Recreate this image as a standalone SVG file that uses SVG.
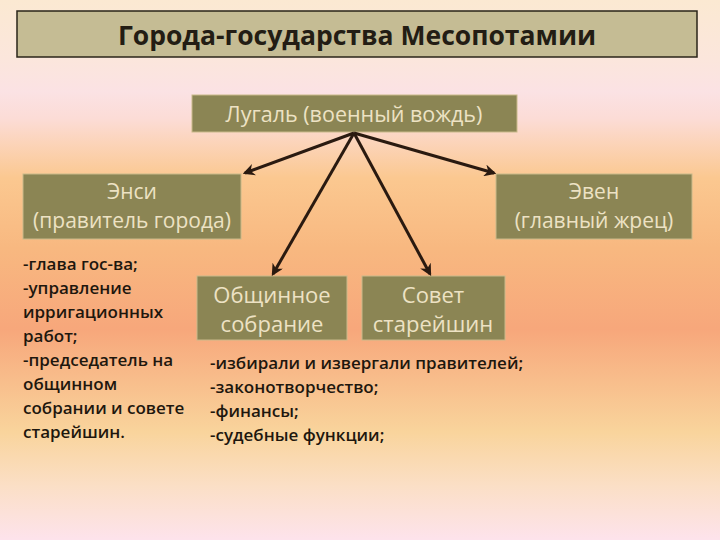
<svg xmlns="http://www.w3.org/2000/svg" width="720" height="540" viewBox="0 0 720 540">
<defs>
<linearGradient id="bg" x1="0" y1="0" x2="0" y2="1">
<stop offset="0" stop-color="#fbe9d2"/>
<stop offset="0.11" stop-color="#fbe6dc"/>
<stop offset="0.17" stop-color="#fbe2e4"/>
<stop offset="0.22" stop-color="#fcdcd6"/>
<stop offset="0.33" stop-color="#fbc890"/>
<stop offset="0.46" stop-color="#f8b880"/>
<stop offset="0.61" stop-color="#f7a77b"/>
<stop offset="0.8" stop-color="#f9d49c"/>
<stop offset="0.9" stop-color="#fbdfc6"/>
<stop offset="1" stop-color="#fde3ec"/>
</linearGradient>
<marker id="arr" viewBox="0 0 10 10" refX="8" refY="5" markerWidth="4" markerHeight="4" orient="auto" markerUnits="strokeWidth">
<path d="M0,0 L10,5 L0,10 L3,5 Z" fill="#2a1a10"/>
</marker>
<style>
.box{fill:#8b8554;stroke:#c9b98a;stroke-width:1}
.lt{font-family:"Open Sans","Liberation Sans",sans-serif;fill:#ede2c4;text-anchor:middle}
.dk{font-family:"Open Sans","Liberation Sans",sans-serif;fill:#1e170e;font-size:17px;font-weight:600}
.con{stroke:#2a1a10;stroke-width:3;fill:none;marker-end:url(#arr)}
</style>
</defs>
<rect width="720" height="540" fill="url(#bg)"/>
<g id="title">
<rect x="17" y="11" width="680" height="46" fill="#c5bc94" stroke="#2a2418" stroke-width="1.5"/>
<text x="357" y="45" font-family="'Open Sans','Liberation Sans',sans-serif" font-size="26.5" font-weight="700" fill="#231d14" text-anchor="middle">Города-государства Месопотамии</text>
</g>
<g id="lugal">
<rect class="box" x="192" y="95" width="325" height="37"/>
<text class="lt" x="354" y="122" font-size="21.5">Лугаль (военный вождь)</text>
</g>
<g id="ensi">
<rect class="box" x="23" y="174" width="218" height="65"/>
<text class="lt" x="132" y="199" font-size="21">Энси</text>
<text class="lt" x="132" y="228" font-size="21">(правитель города)</text>
</g>
<g id="even">
<rect class="box" x="496" y="174" width="196" height="65"/>
<text class="lt" x="594" y="199" font-size="21">Эвен</text>
<text class="lt" x="594" y="228" font-size="21">(главный жрец)</text>
</g>
<g id="obshchinnoe">
<rect class="box" x="197" y="276" width="150" height="64"/>
<text class="lt" x="272" y="303" font-size="22">Общинное</text>
<text class="lt" x="272" y="332" font-size="22">собрание</text>
</g>
<g id="sovet">
<rect class="box" x="362" y="276" width="143" height="64"/>
<text class="lt" x="433" y="303" font-size="22">Совет</text>
<text class="lt" x="433" y="332" font-size="22">старейшин</text>
</g>
<g id="ensi-list">
<text class="dk" x="23" y="270">-глава гос-ва;</text>
<text class="dk" x="23" y="294">-управление</text>
<text class="dk" x="23" y="318">ирригационных</text>
<text class="dk" x="23" y="342">работ;</text>
<text class="dk" x="23" y="366">-председатель на</text>
<text class="dk" x="23" y="390">общинном</text>
<text class="dk" x="23" y="414">собрании и совете</text>
<text class="dk" x="23" y="438">старейшин.</text>
</g>
<g id="council-list">
<text class="dk" x="210" y="369">-избирали и извергали правителей;</text>
<text class="dk" x="210" y="393">-законотворчество;</text>
<text class="dk" x="210" y="417">-финансы;</text>
<text class="dk" x="210" y="441">-судебные функции;</text>
</g>
<g id="connectors">
<line class="con" x1="354" y1="133" x2="245" y2="173"/>
<line class="con" x1="354" y1="133" x2="494" y2="173"/>
<line class="con" x1="354" y1="133" x2="273" y2="274"/>
<line class="con" x1="354" y1="133" x2="430" y2="274"/>
</g>
</svg>
